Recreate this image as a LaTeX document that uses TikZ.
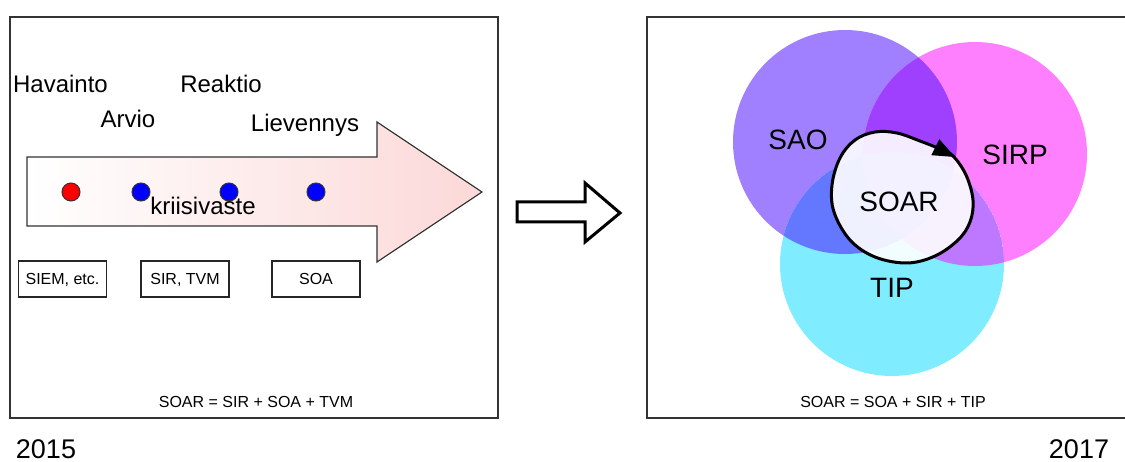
\documentclass[tikz,border=0pt]{standalone}
\usepackage{fontspec}
\setmainfont{Liberation Sans}
\usetikzlibrary{arrows.meta}
\definecolor{saoc}{HTML}{A080FF}
\definecolor{sirpc}{HTML}{FF80FF}
\definecolor{tipc}{HTML}{80ECFF}
\definecolor{saosirp}{HTML}{A040FF}
\definecolor{saotip}{HTML}{6478FF}
\definecolor{sirptip}{HTML}{BE78FF}
\definecolor{triple}{HTML}{8A6AFF}
\definecolor{pinkc}{HTML}{FCD8D8}
\definecolor{framec}{HTML}{333333}
\begin{document}
\begin{tikzpicture}[x=1pt,y=-1pt,
  lbl/.style={font=\fontsize{24}{28}\selectfont, inner sep=0, anchor=base},
  small/.style={font=\fontsize{16}{19}\selectfont, inner sep=0, anchor=base},
  venn/.style={font=\fontsize{28}{32}\selectfont, inner sep=0, anchor=base},
  yearlbl/.style={font=\fontsize{27}{32}\selectfont, inner sep=0, anchor=base},
  toolbox/.style={draw=black!85, line width=1.5pt, minimum width=88pt, minimum height=36pt, text height=11.5pt, text depth=0pt, font=\fontsize{16}{19}\selectfont, inner sep=0},
  dot/.style={circle, draw=black!80, line width=1pt, minimum size=18pt, inner sep=0},
  frame/.style={draw=framec, line width=2pt}]
\clip (0,0) rectangle (1125,462);
\fill[white] (0,0) rectangle (1125,462);

% ---------- left panel ----------
\draw[frame] (10,17) rectangle (498,418);
\draw[draw=black!80, line width=1.2pt, left color=white, right color=pinkc]
  (27,157) -- (377,157) -- (377,122) -- (482,192) -- (377,262) -- (377,226) -- (27,226) -- cycle;
\node[dot, fill=red]  (d1) at (71,192) {};
\node[dot, fill=blue] (d2) at (141,192) {};
\node[dot, fill=blue] (d3) at (229,192) {};
\node[dot, fill=blue] (d4) at (316,192) {};
\node[lbl] (hav) at (60.5,93) {Havainto};
\node[lbl] (arv) at (128,128) {Arvio};
\node[lbl] (rea) at (221,93) {Reaktio};
\node[lbl] (lie) at (305,132) {Lievennys};
\node[lbl] (kri) at (203,215) {kriisivaste};
\node[toolbox] (siem) at (62.5,279) {SIEM, etc.};
\node[toolbox] (sirtvm) at (185,279) {SIR, TVM};
\node[toolbox] (soa) at (316,279) {SOA};
\node[small] (f1) at (256,407) {SOAR = SIR + SOA + TVM};
\node[yearlbl] (y1) at (46,458) {2015};

% ---------- middle arrow ----------
\draw[line width=3pt, line join=miter, fill=white]
  (517,202) -- (585,202) -- (585,183) -- (620,213) -- (585,242) -- (585,222) -- (517,222) -- cycle;

% ---------- right panel ----------
\draw[frame] (647,17) rectangle (1130,418);
\coordinate (cA) at (845,142);
\coordinate (cB) at (975,154);
\coordinate (cC) at (892,264);
\def\rr{112}
\fill[saoc]  (cA) circle[radius=\rr];
\fill[sirpc] (cB) circle[radius=\rr];
\fill[tipc]  (cC) circle[radius=\rr];
\begin{scope}
  \clip (cA) circle[radius=\rr];
  \fill[saosirp] (cB) circle[radius=\rr];
  \fill[saotip] (cC) circle[radius=\rr];
  \clip (cB) circle[radius=\rr];
  \fill[triple] (cC) circle[radius=\rr];
\end{scope}
\begin{scope}
  \clip (cB) circle[radius=\rr];
  \clip (cC) circle[radius=\rr];
  \fill[sirptip] (cC) circle[radius=\rr];
  \clip (cA) circle[radius=\rr];
  \fill[triple] (cC) circle[radius=\rr];
\end{scope}
% SOAR loop
\draw[line width=3pt, fill=white, fill opacity=0.9, line join=round]
  plot[smooth cycle, tension=0.6] coordinates {
   (953,156) (966,175) (973,200) (970,222) (958,240) (935,256) (907,263)
   (875,257) (850,240) (834,212) (832,185) (840,158) (855,140) (875,132)
   (897,133) (920,141) (940,149)};
\coordinate (tipend) at (955,157);
\fill[black] (tipend) -- (931.3,155.2) -- (939.3,139.2) -- cycle;
\node[venn] (sao) at (798,150) {SAO};
\node[venn] (sirp) at (1015,165) {SIRP};
\node[venn] (soar) at (899,212) {SOAR};
\node[venn] (tip) at (892,298) {TIP};
\node[small] (f2) at (893,407) {SOAR = SOA + SIR + TIP};
\node[yearlbl] (y2) at (1079,458) {2017};
\end{tikzpicture}
\end{document}
